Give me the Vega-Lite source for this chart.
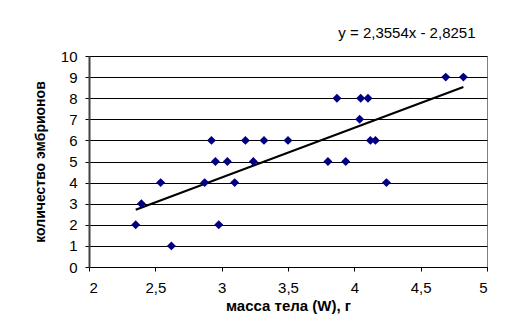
{
  "$schema": "https://vega.github.io/schema/vega-lite/v6.json",
  "autosize": "none",
  "width": 398,
  "height": 211,
  "padding": {"left": 89, "top": 56, "right": 34, "bottom": 60},
  "background": "white",
  "config": {
    "font": "Liberation Sans",
    "view": {"stroke": "#808080", "strokeWidth": 1}
  },
  "title": {
    "text": "y = 2,3554x - 2,8251",
    "anchor": "end",
    "dx": -12,
    "offset": 8,
    "fontSize": 15,
    "fontWeight": "normal",
    "font": "Liberation Sans",
    "color": "#000000"
  },
  "datasets": {
    "points": [
      {"W": 2.923, "n": 6},
      {"W": 3.179, "n": 6},
      {"W": 3.319, "n": 6},
      {"W": 3.500, "n": 6},
      {"W": 2.953, "n": 5},
      {"W": 3.043, "n": 5},
      {"W": 3.239, "n": 5},
      {"W": 4.689, "n": 9},
      {"W": 4.822, "n": 9},
      {"W": 3.869, "n": 8},
      {"W": 4.048, "n": 8},
      {"W": 4.103, "n": 8},
      {"W": 4.040, "n": 7},
      {"W": 4.121, "n": 6},
      {"W": 4.159, "n": 6},
      {"W": 3.801, "n": 5},
      {"W": 3.935, "n": 5},
      {"W": 2.540, "n": 4},
      {"W": 2.872, "n": 4},
      {"W": 3.098, "n": 4},
      {"W": 4.242, "n": 4},
      {"W": 2.395, "n": 3},
      {"W": 2.352, "n": 2},
      {"W": 2.978, "n": 2},
      {"W": 2.621, "n": 1}
    ],
    "trend": [
      {"W": 2.352, "n": 2.715},
      {"W": 4.822, "n": 8.533}
    ]
  },
  "encoding": {
    "x": {
      "field": "W", "type": "quantitative",
      "scale": {"domain": [2, 5], "nice": false, "zero": false},
      "axis": {
        "values": [2, 2.5, 3, 3.5, 4, 4.5, 5],
        "labelExpr": "replace(format(datum.value, '~g'), '.', ',')",
        "labelOverlap": false,
        "grid": false,
        "domainColor": "#000000",
        "tickColor": "#000000",
        "tickSize": 4,
        "labelFontSize": 15,
        "labelColor": "#000000",
        "labelPadding": 9,
        "title": "масса тела (W), г",
        "titleFontSize": 15,
        "titleFontWeight": "bold",
        "titleColor": "#000000",
        "titlePadding": 3
      }
    },
    "y": {
      "field": "n", "type": "quantitative",
      "scale": {"domain": [0, 10], "nice": false},
      "axis": {
        "values": [0, 1, 2, 3, 4, 5, 6, 7, 8, 9, 10],
        "labelOverlap": false,
        "grid": true,
        "gridColor": "#000000",
        "gridWidth": 1,
        "domainColor": "#404040",
        "domainWidth": 2,
        "tickColor": "#000000",
        "tickSize": 4,
        "labelFontSize": 15,
        "labelColor": "#000000",
        "labelPadding": 8,
        "title": "количество эмбрионов",
        "titleFontSize": 14,
        "titleFontWeight": "bold",
        "titleColor": "#000000",
        "titlePadding": 13
      }
    }
  },
  "layer": [
    {
      "data": {"name": "trend"},
      "mark": {"type": "line", "color": "#000000", "strokeWidth": 2.2}
    },
    {
      "data": {"name": "points"},
      "mark": {"type": "point", "shape": "diamond", "filled": true, "color": "#000080", "opacity": 1, "size": 80}
    }
  ]
}
